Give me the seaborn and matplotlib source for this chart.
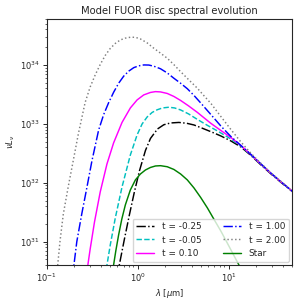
import numpy as np
import matplotlib
matplotlib.use("Agg")
import matplotlib.pyplot as plt
import seaborn as sns

# wavelength [micron] and log10(nu L_nu)
lam_m025 = [0.5982, 0.6293, 0.7147, 0.8118, 0.9218, 1.047, 1.220, 1.385, 1.655, 1.943, 2.304, 2.846,
            3.461, 4.169, 5.070, 6.375, 8.222, 10.60, 13.67, 17.64, 22.75, 29.34, 37.84, 50.95, 58.3]
log_m025 = [30.401, 30.604, 31.037, 31.453, 31.844, 32.200, 32.548, 32.752, 32.913, 32.985, 33.015, 33.024,
            33.010, 32.981, 32.930, 32.868, 32.795, 32.710, 32.608, 32.463, 32.302, 32.149, 32.005, 31.844, 31.767]

lam_m005 = [0.4406, 0.4603, 0.5005, 0.5684, 0.6742, 0.8325, 0.9874, 1.121, 1.274, 1.446, 1.643, 1.879, 2.206,
            2.550, 2.972, 3.642, 4.545, 5.757, 7.557, 10.60, 13.67, 17.64, 22.75, 29.34, 37.84, 50.95, 58.3]
log_m005 = [30.401, 30.604, 30.944, 31.402, 31.929, 32.472, 32.812, 32.998, 33.117, 33.194, 33.239, 33.270, 33.282,
            33.270, 33.236, 33.168, 33.075, 32.981, 32.879, 32.744, 32.625, 32.472, 32.311, 32.158, 32.014, 31.845, 31.772]

lam_p010 = [0.2718, 0.2838, 0.3010, 0.3357, 0.3882, 0.4603, 0.5445, 0.6742, 0.8325, 0.9874, 1.168, 1.385, 1.573,
            1.786, 2.118, 2.506, 2.972, 3.642, 4.545, 6.375, 8.222, 10.60, 13.67, 17.64, 22.75, 29.34, 37.84, 50.95, 58.3]
log_p010 = [30.384, 30.604, 30.876, 31.334, 31.844, 32.319, 32.676, 33.024, 33.270, 33.406, 33.491, 33.533, 33.547,
            33.542, 33.516, 33.465, 33.397, 33.304, 33.194, 33.010, 32.888, 32.769, 32.633, 32.477, 32.314, 32.158, 32.014, 31.849, 31.776]

lam_p100 = [0.1861, 0.1972, 0.2145, 0.2435, 0.2767, 0.3142, 0.3726, 0.4231, 0.4806, 0.5458, 0.6199, 0.7038, 0.7995,
            0.9078, 1.031, 1.171, 1.330, 1.510, 1.786, 2.118, 2.506, 2.972, 3.524, 4.169, 4.942, 6.375, 8.222, 10.60,
            13.67, 17.64, 22.75, 29.34, 37.84, 50.95, 58.3]
log_p100 = [30.134, 30.542, 31.000, 31.475, 31.917, 32.367, 32.893, 33.156, 33.360, 33.538, 33.691, 33.810, 33.895,
            33.954, 33.985, 34.000, 33.998, 33.978, 33.935, 33.864, 33.774, 33.689, 33.596, 33.482, 33.355, 33.160, 32.964, 32.786,
            32.633, 32.480, 32.319, 32.161, 32.014, 31.849, 31.776]

lam_p200 = [0.1283, 0.1323, 0.1403, 0.1525, 0.1733, 0.1967, 0.2235, 0.2649, 0.3010, 0.3418, 0.3882, 0.4406, 0.5005,
            0.5684, 0.6455, 0.7330, 0.8325, 0.9456, 1.074, 1.274, 1.506, 1.786, 2.118, 2.506, 2.972, 3.642, 4.545, 5.336,
            6.375, 8.222, 10.60, 13.67, 17.64, 22.75, 29.34, 37.84, 50.95, 58.3]
log_p200 = [30.401, 30.604, 31.012, 31.470, 31.946, 32.387, 32.837, 33.363, 33.626, 33.830, 34.008, 34.161, 34.280,
            34.365, 34.424, 34.455, 34.470, 34.469, 34.441, 34.374, 34.284, 34.200, 34.114, 34.005, 33.886, 33.750, 33.604, 33.482,
            33.350, 33.126, 32.905, 32.693, 32.500, 32.328, 32.166, 32.022, 31.849, 31.776]

lam_star = [0.520, 0.5445, 0.5757, 0.6183, 0.6708, 0.7330, 0.8325, 0.9456, 1.074, 1.220, 1.385, 1.573, 1.786,
            2.118, 2.506, 2.972, 3.524, 4.169, 4.942, 5.861, 6.933, 8.222, 9.750, 11.53, 13.10, 14.03]
log_star = [30.401, 30.604, 30.842, 31.114, 31.385, 31.623, 31.878, 32.048, 32.149, 32.217, 32.260, 32.285, 32.290,
            32.272, 32.226, 32.149, 32.048, 31.912, 31.750, 31.572, 31.377, 31.182, 30.969, 30.757, 30.596, 30.503]

series = [
    ("t = -0.25", lam_m025, log_m025, "k", "-."),
    ("t = -0.05", lam_m005, log_m005, "c", "--"),
    ("t = 0.10", lam_p010, log_p010, "magenta", "-"),
    ("t = 1.00", lam_p100, log_p100, "b", "-."),
    ("t = 2.00", lam_p200, log_p200, "gray", ":"),
    ("Star", lam_star, log_star, "green", "-"),
]

sns.set_style("ticks")
plt.rcParams["font.family"] = ["DejaVu Sans"]
plt.rcParams["font.size"] = 6

fig = plt.figure(figsize=(3.03, 3.03), dpi=100)
ax = fig.add_axes([0.154, 0.125, 0.81, 0.812])

for label, lam, logv, col, ls in series:
    sns.lineplot(x=np.array(lam), y=10 ** np.array(logv), ax=ax, color=col,
                 linestyle=ls, linewidth=1.05, label=label, sort=False)

ax.set_xscale("log")
ax.set_yscale("log")
ax.set_xlim(0.1, 50)
ax.set_ylim(4e30, 6e34)
ax.set_xlabel(r"$\lambda$ [$\mu$m]", fontsize=6, labelpad=2)
ax.set_ylabel(r"$\nu L_\nu$", fontsize=6, labelpad=2)
ax.set_title("Model FUOR disc spectral evolution", fontsize=7.2, pad=4)
ax.tick_params(which="major", labelsize=6, length=2.8, width=0.7, pad=2)
ax.tick_params(which="minor", length=1.6, width=0.5)
for s in ax.spines.values():
    s.set_linewidth(0.8)
ax.legend(loc="lower right", ncol=2, fontsize=6.4, framealpha=0.8,
          handlelength=2.0, handletextpad=0.9, columnspacing=2.4, borderaxespad=0.4)

fig.savefig("out.png", dpi=100)
